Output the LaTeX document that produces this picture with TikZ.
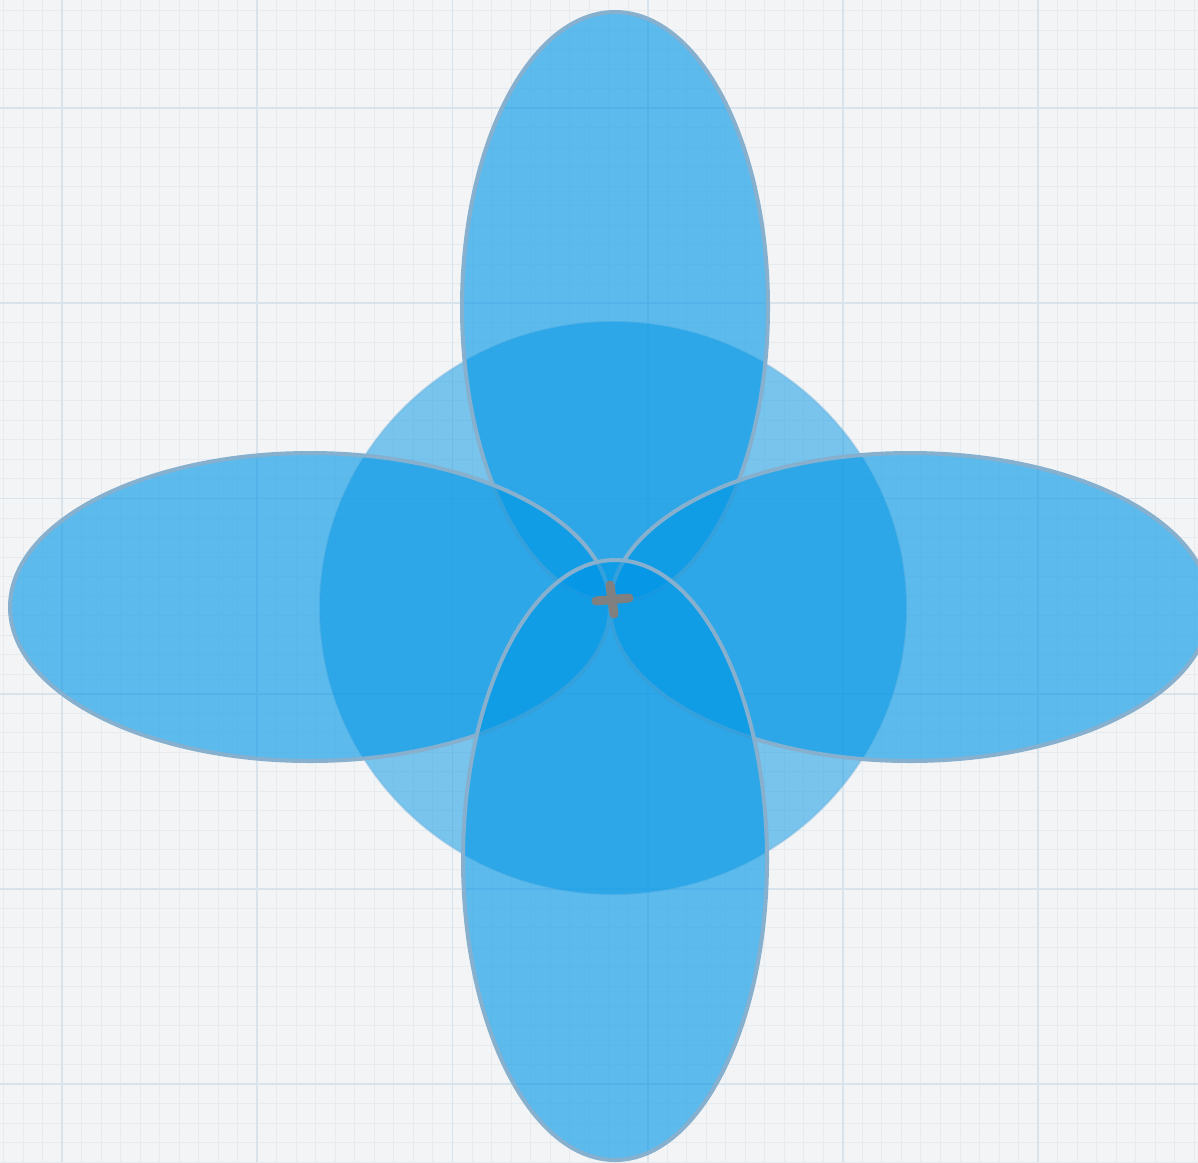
\documentclass[tikz,border=0pt]{standalone}
\definecolor{bgcol}{RGB}{242,244,246}
\definecolor{petalfill}{RGB}{0,150,230}
\definecolor{petaldraw}{RGB}{134,176,206}
\definecolor{discdraw}{RGB}{120,180,220}
\definecolor{minorcol}{RGB}{230,235,239}
\definecolor{majorcol}{RGB}{216,227,236}
\definecolor{pluscol}{RGB}{128,128,128}
\begin{document}
\begin{tikzpicture}[x=1pt,y=-1pt,
  petal/.style={fill=petalfill,fill opacity=0.61,draw=petaldraw,line width=4pt},
  disc/.style={fill=petalfill,fill opacity=0.5,draw=discdraw,draw opacity=0.4,line width=2pt},
  minorline/.style={draw=minorcol,line width=0.8pt},
  majorline/.style={draw=majorcol,line width=1.8pt},
  plusmark/.style={draw=pluscol,line width=9pt,line cap=round}]
\useasboundingbox (0,0) rectangle (1198,1162);
\fill[bgcol] (0,0) rectangle (1198,1162);
% minor grid
\foreach \i in {-3,...,58} {
  \draw[minorline] ({62+19.52*\i},0) -- ({62+19.52*\i},1162);
}
\foreach \i in {-6,...,55} {
  \draw[minorline] (0,{108+19.52*\i}) -- (1198,{108+19.52*\i});
}
% major grid
\foreach \i in {0,...,5} {
  \draw[majorline] ({62+195.2*\i},0) -- ({62+195.2*\i},1162);
  \draw[majorline] (0,{108+195.2*\i}) -- (1198,{108+195.2*\i});
}
% central circle
\path[disc] (613,608) ellipse [x radius=293pt, y radius=286pt];
% petals
\path[petal] (615,307) ellipse [x radius=153pt, y radius=295pt];
\path[petal] (310,607) ellipse [x radius=300pt, y radius=154pt];
\path[petal] (910,607) ellipse [x radius=300pt, y radius=154pt];
\path[petal] (615,860) ellipse [x radius=152pt, y radius=300pt];
% plus mark
\coordinate (pt) at (610,585);
\coordinate (pb) at (614,614);
\coordinate (pl) at (596,601);
\coordinate (pr) at (629,598);
\draw[plusmark] (pt) -- (pb);
\draw[plusmark] (pl) -- (pr);
\end{tikzpicture}
\end{document}
